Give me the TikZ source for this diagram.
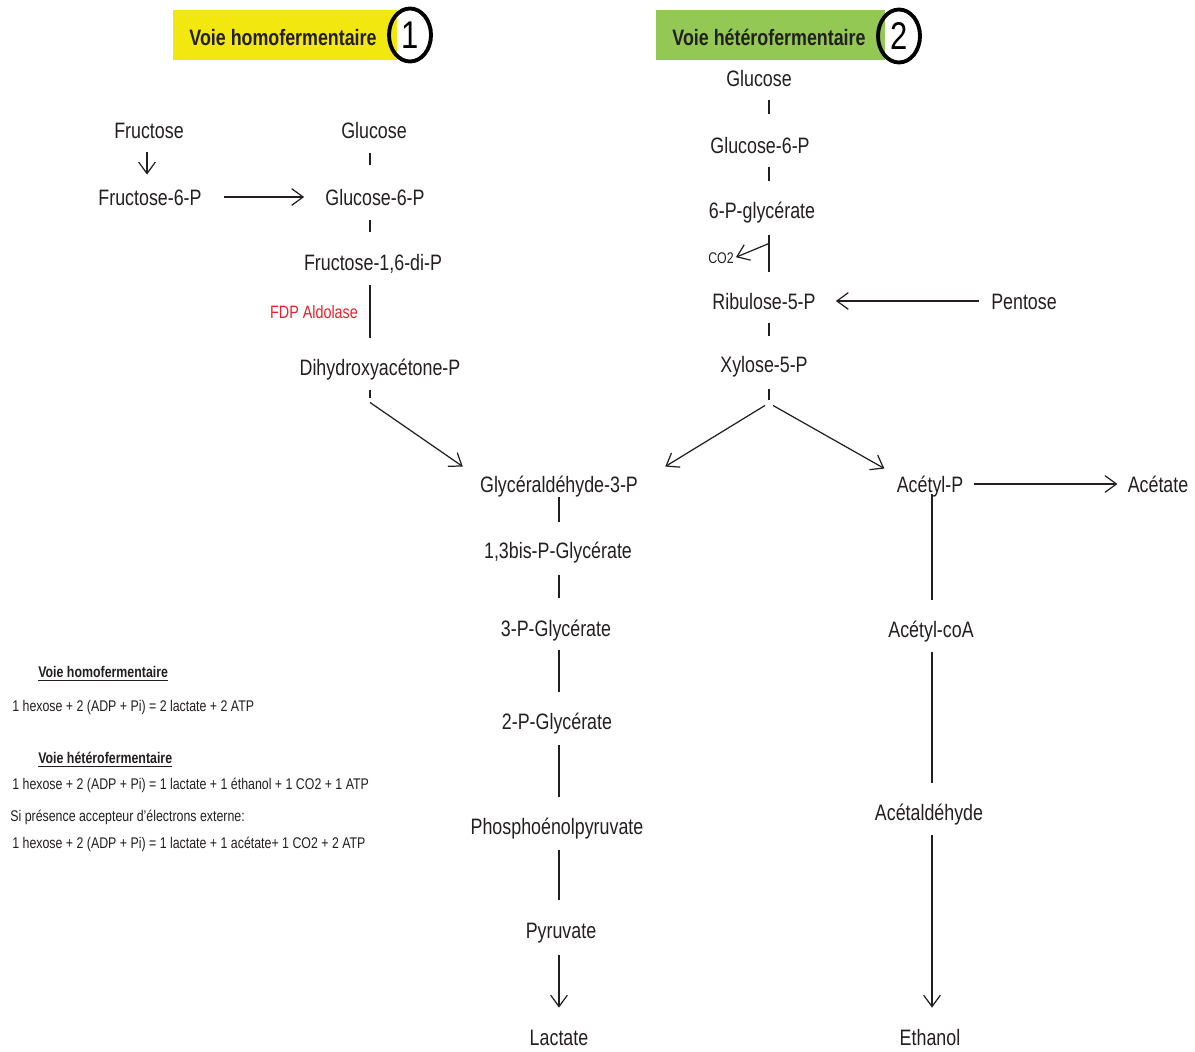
\documentclass[tikz,border=0pt]{standalone}
\usepackage{fontspec}
\setmainfont[FakeStretch=0.8]{Liberation Sans}
\usetikzlibrary{
  arrows.meta,
  calc,
  positioning,
  shapes.geometric
}
\definecolor{homoyellow}{HTML}{F2E70F}
\definecolor{heterogreen}{HTML}{92C853}
\definecolor{aldored}{HTML}{E8202A}
\definecolor{inkgray}{HTML}{231F20}

\tikzset{
  met/.style={font=\fontsize{12.7}{15}\selectfont, inner sep=0pt,
    text height=10.4pt, text depth=1.1pt, text=inkgray},
  hdr/.style={met, font=\fontsize{12.7}{15}\selectfont\bfseries},
  numring/.style={draw=black, line width=2.2pt, ellipse, inner sep=0pt,
    minimum width=0.84cm, minimum height=1.06cm,
    font=\fontsize{22}{24}\selectfont},
  small/.style={font=\fontsize{8.8}{11}\selectfont, inner sep=0pt,
    anchor=west, text=inkgray},
  ln/.style={line width=0.7pt, draw=inkgray},
  arr/.style={ln, -{Straight Barb[length=6.5pt, width=9.5pt]}},
  pad/.style 2 args={shorten <=#1*0.567pt, shorten >=#2*0.567pt}
}

\begin{document}
\begin{tikzpicture}[x=0.02cm, y=-0.02cm]
\useasboundingbox (0,0) rectangle (1195,1051);

% headers
\fill[homoyellow] (173,10) rectangle (397,60);
\node[hdr] (homoT) at (283,37) {Voie homofermentaire};
\node[numring] (homoN) at (410,35) {1};
\fill[heterogreen] (656,10) rectangle (885,60);
\node[hdr] (hetT) at (769,37) {Voie hétérofermentaire};
\node[numring] (hetN) at (899,36) {2};

% axes of the vertical connectors
\coordinate (axF) at (147,0);
\coordinate (axL) at (370,0);
\coordinate (axM) at (559,0);
\coordinate (axR) at (769,0);
\coordinate (axA) at (932,0);

% homofermentative branch
\node[met] (fru)  at (149,130) {Fructose};
\node[met] (fru6) at (150,197) {Fructose-6-P};
\node[met] (glu)  at (374,130) {Glucose};
\node[met] (glu6) at (375,197) {Glucose-6-P};
\node[met] (fdp)  at (373,262) {Fructose-1,6-di-P};
\node[met, font=\fontsize{10.2}{12}\selectfont, text=aldored] (ald) at (314,310) {FDP Aldolase};
\node[met] (dhap) at (380,367) {Dihydroxyacétone-P};

\draw[arr, pad={12}{12}] (fru.south -| axF) -- (fru6.north -| axF);
\draw[arr, pad={22}{21}] (fru6) -- (glu6);
\draw[ln, pad={13}{22}] (glu.south -| axL) -- (glu6.north -| axL);
\draw[ln, pad={13}{20}] (glu6.south -| axL) -- (fdp.north -| axL);
\draw[ln, pad={13}{19}] (fdp.south -| axL) -- (dhap.north -| axL);
\draw[ln] ($(dhap.south -| axL)+(0,13)$) -- ++(0,8);

% common trunk
\node[met] (gap3) at (559,484)  {Glycéraldéhyde-3-P};
\node[met] (bpg)  at (558,550)  {1,3bis-P-Glycérate};
\node[met] (pg3)  at (556,628)  {3-P-Glycérate};
\node[met] (pg2)  at (557,721)  {2-P-Glycérate};
\node[met] (pep)  at (557,826)  {Phosphoénolpyruvate};
\node[met] (pyr)  at (561,930)  {Pyruvate};
\node[met] (lac)  at (559,1037) {Lactate};

\draw[arr] ($(dhap.south -| axL)+(0,25)$) -- ([shift={(-17,-7)}]gap3.north west);
\draw[ln, pad={3}{18}]  (gap3.south -| axM) -- (bpg.north -| axM);
\draw[ln, pad={15}{20}] (bpg.south -| axM) -- (pg3.north -| axM);
\draw[ln, pad={12}{19}] (pg3.south -| axM) -- (pg2.north -| axM);
\draw[ln, pad={14}{19}] (pg2.south -| axM) -- (pep.north -| axM);
\draw[ln, pad={14}{20}] (pep.south -| axM) -- (pyr.north -| axM);
\draw[arr, pad={15}{19}] (pyr.south -| axM) -- (lac.north -| axM);

% heterofermentative branch
\node[met] (gluR)  at (759,78)  {Glucose};
\node[met] (glu6R) at (760,145) {Glucose-6-P};
\node[met] (pgc6)  at (762,210) {6-P-glycérate};
\node[small, anchor=center] (co2) at (721,258) {CO2};
\node[met] (rib)   at (764,301) {Ribulose-5-P};
\node[met] (pent)  at (1024,301) {Pentose};
\node[met] (xyl)   at (764,364) {Xylose-5-P};
\node[met] (acp)   at (930,484) {Acétyl-P};
\node[met] (acet)  at (1158,484) {Acétate};
\node[met] (acoa)  at (931,629) {Acétyl-coA};
\node[met] (acald) at (929,812) {Acétaldéhyde};
\node[met] (eth)   at (930,1037) {Ethanol};

\draw[ln, pad={12}{21}] (gluR.south -| axR) -- (glu6R.north -| axR);
\draw[ln, pad={12}{19}] (glu6R.south -| axR) -- (pgc6.north -| axR);
\draw[ln, pad={15}{19}] (pgc6.south -| axR) -- (rib.north -| axR);
\draw[arr, pad={0}{2}] ($(pgc6.south -| axR)+(0,23)$) -- (co2.east);
\draw[ln, pad={12}{18}] (rib.south -| axR) -- (xyl.north -| axR);
\draw[arr, pad={12}{20}] (pent) -- (rib);
\draw[ln] ($(xyl.south -| axR)+(0,15)$) -- ++(0,11);
\draw[arr] ($(xyl.south -| axR)+(-4,31)$) -- ([shift={(27,-7)}]gap3.north east);
\draw[arr] ($(xyl.south -| axR)+(4,31)$) -- ([shift={(-12,-5)}]acp.north west);
\draw[arr, pad={10}{10}] (acp) -- (acet);
\draw[ln, pad={0}{19}]  (acp.south -| axA) -- (acoa.north -| axA);
\draw[ln, pad={13}{19}] (acoa.south -| axA) -- (acald.north -| axA);
\draw[arr, pad={13}{19}] (acald.south -| axA) -- (eth.north -| axA);

% balance equations
\node[small, font=\fontsize{8.8}{11}\selectfont\bfseries] (sumHomoT) at (38,674) {\underline{Voie homofermentaire}};
\node[small] (sumHomo) at (12,707) {1 hexose + 2 (ADP + Pi) = 2 lactate + 2 ATP};
\node[small, font=\fontsize{8.8}{11}\selectfont\bfseries] (sumHetT) at (38,760) {\underline{Voie hétérofermentaire}};
\node[small] (sumHet) at (12,785) {1 hexose + 2 (ADP + Pi) = 1 lactate + 1 éthanol + 1 CO2 + 1 ATP};
\node[small] (sumAcc) at (10,817) {Si présence accepteur d’électrons externe:};
\node[small] (sumAccEq) at (12,844) {1 hexose + 2 (ADP + Pi) = 1 lactate + 1 acétate+ 1 CO2 + 2 ATP};
\end{tikzpicture}
\end{document}
